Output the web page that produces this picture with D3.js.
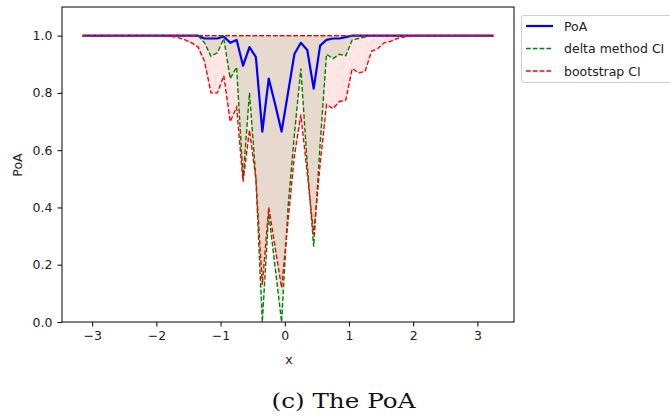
<!DOCTYPE html>
<html><head><meta charset="utf-8">
<script src="https://cdn.jsdelivr.net/npm/d3@7"></script>
<style>body{margin:0;background:#fff}svg{display:block}</style>
</head><body><svg id="c" width="670" height="419"></svg>
<script>
const xs = [-3.15,-3.05,-2.95,-2.85,-2.75,-2.65,-2.55,-2.45,-2.35,-2.25,-2.15,-2.05,-1.95,-1.85,-1.75,-1.65,-1.55,-1.45,-1.35,-1.25,-1.15,-1.05,-0.95,-0.85,-0.75,-0.65,-0.55,-0.45,-0.35,-0.25,-0.15,-0.05,0.05,0.15,0.25,0.35,0.45,0.55,0.65,0.75,0.85,0.95,1.05,1.15,1.25,1.35,1.45,1.55,1.65,1.75,1.85,1.95,2.05,2.15,2.25,2.35,2.45,2.55,2.65,2.75,2.85,2.95,3.05,3.15,3.25];
const poa = [1,1,1,1,1,1,1,1,1,1,1,1,1,1,1,1,1,1,1,
  0.99,0.99,0.99,0.997,0.975,0.985,0.895,0.96,0.925,0.665,0.85,0.76,0.665,0.80,0.936,0.975,0.95,0.815,0.965,0.985,0.99,0.99,0.995,
  1,1,1,1,1,1,1,1,1,1,1,1,1,1,1,1,1,1,1,1,1,1,1];
const deltaLower = [1,1,1,1,1,1,1,1,1,1,1,1,1,1,1,1,1,1,1,
  0.975,0.928,0.94,0.99,0.85,0.89,0.50,0.80,0.50,0.0,0.38,0.19,0.0,0.40,0.655,0.885,0.55,0.263,0.62,0.935,0.92,0.935,0.93,0.985,0.99,0.995,
  1,1,1,1,1,1,1,1,1,1,1,1,1,1,1,1,1,1,1,1];
const deltaUpper = [1,1,1,1,1,1,1,1,1,1,1,1,1,1,1,1,1,1,1,1,1,1,1,1,1,1,1,1,1,1,1,1,1,1,1,1,1,1,1,1,1,1,1,1,1,1,1,1,1,1,1,1,1,1,1,1,1,1,1,1,1,1,1,1,1];
const bootLower = [1,1,1,1,1,1,1,1,1,1,1,1,1,1,
  0.997,0.992,0.985,0.975,0.96,0.91,0.80,0.80,0.86,0.70,0.75,0.49,0.67,0.50,0.13,0.40,0.26,0.12,0.35,0.58,0.724,0.52,0.304,0.55,0.76,0.745,0.77,0.775,0.885,0.87,0.875,0.945,0.955,0.975,0.98,0.99,0.995,
  1,1,1,1,1,1,1,1,1,1,1,1,1,1];
const bootUpper = [1,1,1,1,1,1,1,1,1,1,1,1,1,1,1,1,1,1,1,1,1,1,1,1,1,1,1,1,1,1,1,1,1,1,1,1,1,1,1,1,1,1,1,1,1,1,1,1,1,1,1,1,1,1,1,1,1,1,1,1,1,1,1,1,1];
const xTicks = [-3,-2,-1,0,1,2,3];
const yTicks = [0.0,0.2,0.4,0.6,0.8,1.0];
const legendLabels = ["PoA","delta method CI","bootstrap CI"];

const svg = d3.select("#c");
const L = 62, R = 514, T = 7, B = 322;
const x = d3.scaleLinear().domain([-3.47, 3.57]).range([L, R]);
const y = d3.scaleLinear().domain([0, 1.1]).range([B, T]);
const font = "DejaVu Sans, sans-serif";

const g = svg.append("g");
const idx = d3.range(xs.length);
const area = (lo, hi) => d3.area().x(i => x(xs[i])).y0(i => y(lo[i])).y1(i => y(hi[i]));
const line = (v) => d3.line().x(i => x(xs[i])).y(i => y(v[i]));

g.append("path").attr("d", area(deltaLower, deltaUpper)(idx)).attr("fill", "rgba(0,128,0,0.1)");
g.append("path").attr("d", area(bootLower, bootUpper)(idx)).attr("fill", "rgba(255,0,0,0.1)");

g.append("path").attr("d", line(poa)(idx)).attr("fill","none").attr("stroke","#0000ff").attr("stroke-width",2.2).attr("stroke-linejoin","round");
const dash = "4.7,2.1";
[deltaLower, deltaUpper].forEach(v => g.append("path").attr("d", line(v)(idx)).attr("fill","none").attr("stroke","#008000").attr("stroke-width",1.4).attr("stroke-dasharray",dash));
[bootLower, bootUpper].forEach(v => g.append("path").attr("d", line(v)(idx)).attr("fill","none").attr("stroke","#ff0000").attr("stroke-width",1.4).attr("stroke-dasharray",dash));

// frame
svg.append("rect").attr("x",L).attr("y",T).attr("width",R-L).attr("height",B-T).attr("fill","none").attr("stroke","#000").attr("stroke-width",1);

// axes
const fmtX = d => d < 0 ? "\u2212" + Math.abs(d) : String(d);
const xAxis = svg.append("g").attr("transform",`translate(0,${B})`)
  .call(d3.axisBottom(x).tickValues(xTicks).tickSize(4.5).tickPadding(5).tickFormat(fmtX));
const yAxis = svg.append("g").attr("transform",`translate(${L},0)`)
  .call(d3.axisLeft(y).tickValues(yTicks).tickSize(4.5).tickPadding(5).tickFormat(d3.format(".1f")));
[xAxis, yAxis].forEach(a => {
  a.select(".domain").remove();
  a.selectAll("text").attr("font-family", font).attr("font-size", 12.5).attr("fill", "#222");
  a.selectAll("line").attr("stroke","#000");
});

svg.append("text").attr("x", (L+R)/2 + 1).attr("y", 364).attr("text-anchor","middle")
  .attr("font-family", font).attr("font-size", 12.5).attr("fill","#222").text("x");
svg.append("text").attr("transform","translate(22,165) rotate(-90)").attr("text-anchor","middle")
  .attr("font-family", font).attr("font-size", 12.5).attr("fill","#222").text("PoA");

// legend
const lg = svg.append("g");
lg.append("rect").attr("x",521.5).attr("y",15.5).attr("width",160).attr("height",67).attr("rx",2.5)
  .attr("fill","rgba(255,255,255,0.8)").attr("stroke","#cccccc").attr("stroke-width",1);
const lstyles = [{c:"#0000ff", w:2.2, d:null},{c:"#008000", w:1.4, d:dash},{c:"#ff0000", w:1.4, d:dash}];
legendLabels.forEach((t, i) => {
  const yy = 26 + i * 22.5;
  const ln = lg.append("line").attr("x1",526).attr("x2",553).attr("y1",yy).attr("y2",yy)
    .attr("stroke", lstyles[i].c).attr("stroke-width", lstyles[i].w);
  if (lstyles[i].d) ln.attr("stroke-dasharray", lstyles[i].d);
  lg.append("text").attr("x",564).attr("y",yy+4.5).attr("font-family",font).attr("font-size",12.5)
    .attr("fill","#222").text(t);
});

// caption
svg.append("text").attr("x",343.5).attr("y",408).attr("text-anchor","middle")
  .attr("font-family","'DejaVu Serif', serif").attr("font-size",20).attr("font-weight","normal").attr("fill","#111")
  .attr("textLength",144).attr("lengthAdjust","spacingAndGlyphs").text("(c) The PoA");
</script></body></html>
